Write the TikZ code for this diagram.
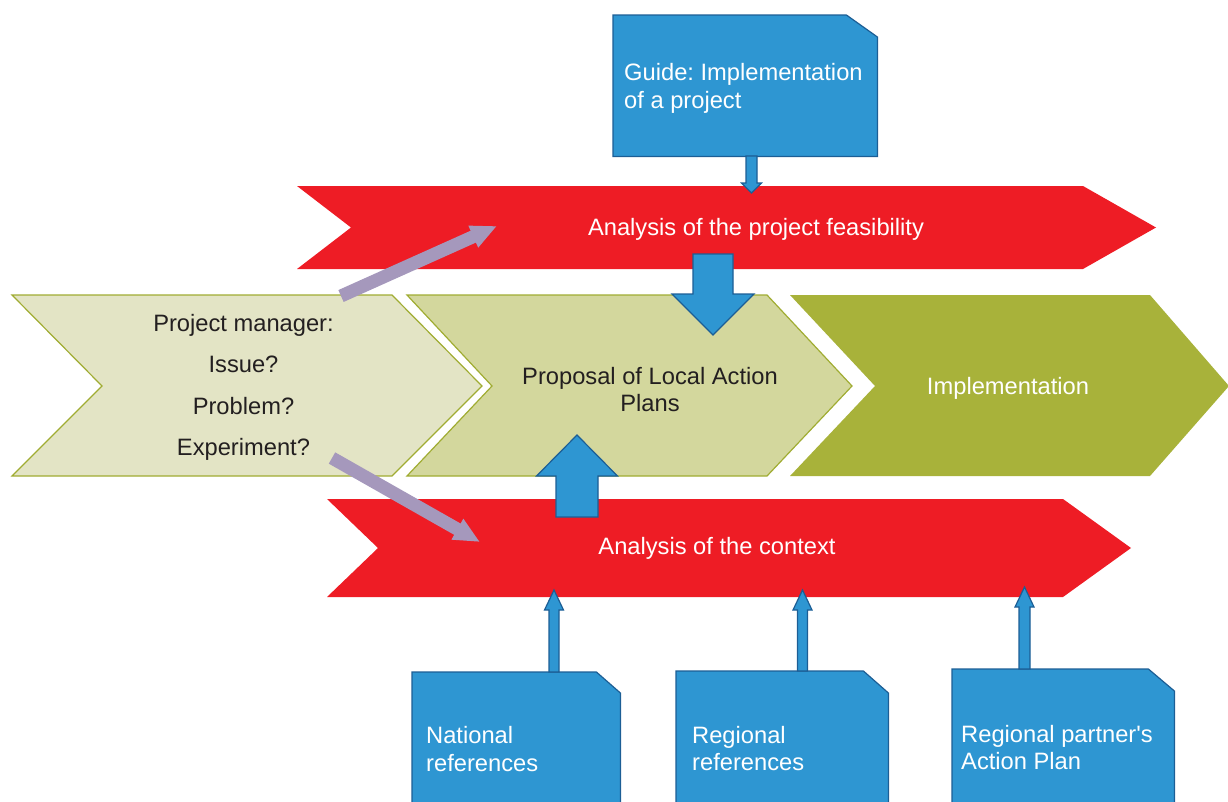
\documentclass[tikz,border=0pt]{standalone}
\usepackage{fontspec}
\setmainfont{Liberation Sans}
\usetikzlibrary{arrows.meta,calc}
\frenchspacing
\definecolor{cred}{RGB}{238,28,37}
\definecolor{cblue}{RGB}{46,150,210}
\definecolor{cbluedark}{RGB}{28,94,149}
\definecolor{clight}{RGB}{227,228,197}
\definecolor{cmid}{RGB}{211,215,157}
\definecolor{colive}{RGB}{168,178,58}
\definecolor{colivedark}{RGB}{160,172,50}
\definecolor{cpurple}{RGB}{165,152,188}
\definecolor{ctext}{RGB}{35,31,32}
\newcommand\vblockarrow[5]{%
  \path[bluearrow] let \p1=(#1), \p2=(#2), \n1={sign(\y2-\y1)} in
    (\x1-#3,\y1) -- (\x1-#3,\y2-\n1*#5) -- (\x1-#4,\y2-\n1*#5) -- (\x2,\y2)
    -- (\x1+#4,\y2-\n1*#5) -- (\x1+#3,\y2-\n1*#5) -- (\x1+#3,\y1) -- cycle;}
\begin{document}
\begin{tikzpicture}[x=1pt,y=-1pt,
  every node/.style={inner sep=0pt},
  bigfont/.style={font=\fontsize{23.7}{27.5}\selectfont},
  redband/.style={fill=cred},
  wtext/.style={bigfont,text=white},
  dtext/.style={bigfont,text=ctext},
  lightchev/.style={fill=clight,draw=colivedark,line width=1.2pt,line join=miter},
  midchev/.style={fill=cmid,draw=colivedark,line width=1.2pt},
  darkchev/.style={fill=colive},
  docarea/.style={rectangle,anchor=north west},
  docshape/.style={fill=cblue,draw=cbluedark,line width=1.2pt},
  doctext/.style={wtext,align=left,anchor=west},
  bluearrow/.style={fill=cblue,draw=cbluedark,line width=1.2pt,line join=miter},
  purplearrow/.style={draw=cpurple,line width=13pt,-{Triangle[length=26pt,width=22pt]}}
]
\useasboundingbox (0,0) rectangle (1228,801);
\clip (0,0) rectangle (1228,801);

% red banners
\path[redband] (297,186) -- (1083,186) -- (1156,227.5) -- (1083,269) -- (297,269) -- (351,227.5) -- cycle;
\node[wtext] (feas) at (756,229) {Analysis of the project feasibility};
\path[redband] (327,499) -- (1063,499) -- (1131,548) -- (1063,597) -- (327,597) -- (378,548) -- cycle;
\node[wtext] (context) at (717,548) {Analysis of the context};

% chevrons
\path[lightchev] (12,295) -- (392,295) -- (482,386) -- (392,476) -- (12,476) -- (102,386) -- cycle;
\node[dtext,align=center,font=\fontsize{23.7}{41.5}\selectfont] (pm) at (243.5,387.5)
  {Project manager:\\Issue?\\Problem?\\Experiment?};
\path[midchev] (407,295) -- (767,295) -- (852,386) -- (767,476) -- (407,476) -- (492,386) -- cycle;
\node[dtext,align=center] (prop) at (650,389.5) {Proposal of Local Action\\Plans};
\path[darkchev] (790,295) -- (1150,295) -- (1229,386) -- (1150,476) -- (790,476) -- (875,386) -- cycle;
\node[wtext] (impl) at (1008,388) {Implementation};

% document boxes
\node[docarea,minimum width=264pt,minimum height=141pt] (guide) at (613,15) {};
\path[docshape] (guide.south west) -- (guide.north west) -- ([xshift=-31pt]guide.north east)
  -- ([yshift=-22pt]guide.north east) -- (guide.south east) -- cycle;
\node[doctext] (guidetxt) at ([xshift=11pt,yshift=-2.5pt]guide.west) {Guide: Implementation\\of a project};

\node[docarea,minimum width=208pt,minimum height=154pt] (nat) at (412,672) {};
\path[docshape] (nat.south west) -- (nat.north west) -- ([xshift=-24pt]nat.north east)
  -- ([yshift=-21pt]nat.north east) -- (nat.south east) -- cycle;
\node[doctext] (nattxt) at ([xshift=14pt]nat.west) {National\\references};

\node[docarea,minimum width=212pt,minimum height=155pt] (reg) at (676,671) {};
\path[docshape] (reg.south west) -- (reg.north west) -- ([xshift=-25pt]reg.north east)
  -- ([yshift=-22pt]reg.north east) -- (reg.south east) -- cycle;
\node[doctext] (regtxt) at ([xshift=16pt]reg.west) {Regional\\references};

\node[docarea,minimum width=222pt,minimum height=157pt] (part) at (952,669) {};
\path[docshape] (part.south west) -- (part.north west) -- ([xshift=-26pt]part.north east)
  -- ([yshift=-22pt]part.north east) -- (part.south east) -- cycle;
\node[doctext] (parttxt) at ([xshift=9pt]part.west) {Regional partner\textquotesingle s\\Action Plan};

% blue arrows
\coordinate (g1) at (751.5,156);   \coordinate (g2) at (751.5,193);
\vblockarrow{g1}{g2}{5.5pt}{10pt}{10pt}
\coordinate (f1) at (713,254);     \coordinate (f2) at (713,335);
\vblockarrow{f1}{f2}{20pt}{41pt}{41pt}
\coordinate (c1) at (577,517);     \coordinate (c2) at (577,435);
\vblockarrow{c1}{c2}{21pt}{40.5pt}{41pt}
\coordinate (n1) at (554,672);     \coordinate (n2) at (554,590);
\vblockarrow{n1}{n2}{5pt}{9.5pt}{20pt}
\coordinate (r1) at (802.5,671);   \coordinate (r2) at (802.5,590);
\vblockarrow{r1}{r2}{5pt}{9.5pt}{20pt}
\coordinate (p1) at (1024.5,669);  \coordinate (p2) at (1024.5,587);
\vblockarrow{p1}{p2}{5.5pt}{9.5pt}{20pt}

% purple arrows
\coordinate (a1) at (341,296);  \coordinate (a2) at (497,226);
\draw[purplearrow] (a1) -- (a2);
\coordinate (b1) at (332,458);  \coordinate (b2) at (480,542);
\draw[purplearrow] (b1) -- (b2);
\end{tikzpicture}
\end{document}
